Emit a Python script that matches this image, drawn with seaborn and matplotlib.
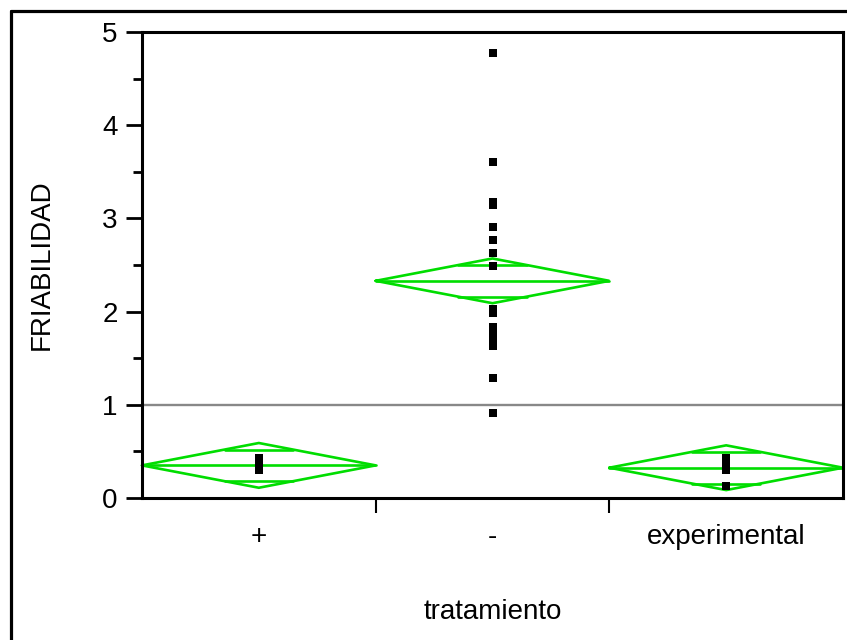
import numpy as np
import pandas as pd
import matplotlib
matplotlib.use("Agg")
import matplotlib.pyplot as plt
from matplotlib.lines import Line2D
import seaborn as sns

# ---- data ----
categories = ["+", "-", "experimental"]
plus_vals = [0.30, 0.32, 0.34, 0.35, 0.36, 0.37, 0.38, 0.39, 0.41, 0.43]
minus_vals = [4.77, 3.60, 3.18, 3.14, 2.91, 2.77, 2.63, 2.49, 2.03, 1.98,
              1.83, 1.78, 1.70, 1.63, 1.29, 0.91]
exp_vals = [0.13, 0.30, 0.32, 0.34, 0.36, 0.38, 0.40, 0.42, 0.43]
group_means = [0.35, 2.33, 0.325]
ci_half = [0.24, 0.24, 0.24]
grand_mean = 1.0
y_ticks = [0, 1, 2, 3, 4, 5]
y_minor = [0.5, 1.5, 2.5, 3.5, 4.5]

df = pd.DataFrame({
    "tratamiento": ["+"] * len(plus_vals) + ["-"] * len(minus_vals) + ["experimental"] * len(exp_vals),
    "FRIABILIDAD": plus_vals + minus_vals + exp_vals,
})

sns.set_theme(style="white")
plt.rcParams["font.family"] = ["Liberation Sans", "DejaVu Sans"]
plt.rcParams["text.color"] = "black"
plt.rcParams["axes.labelcolor"] = "black"
plt.rcParams["xtick.color"] = "black"
plt.rcParams["ytick.color"] = "black"

fig = plt.figure(figsize=(8.47, 6.40), dpi=100)
ax = fig.add_axes([142 / 847, 1 - 498 / 640, (843 - 142) / 847, (498 - 32) / 640])

green = "#00dd00"
glw = 1.9

# grand mean line
ax.axhline(grand_mean, color="#888888", lw=1.7, zorder=1)

# means diamonds
for i, (m, c) in enumerate(zip(group_means, ci_half)):
    ax.plot([i - 0.5, i, i + 0.5, i, i - 0.5], [m, m + c, m, m - c, m],
            color=green, lw=glw, zorder=2, clip_on=False, solid_joinstyle="miter")
    ax.plot([i - 0.5, i + 0.5], [m, m], color=green, lw=glw, zorder=2, clip_on=False)
    d = c / np.sqrt(2)
    hw = 0.5 * (1 - d / c)
    for yy in (m + d, m - d):
        ax.plot([i - hw, i + hw], [yy, yy], color=green, lw=glw, zorder=2)

sns.stripplot(data=df, x="tratamiento", y="FRIABILIDAD", order=categories,
              jitter=False, marker="s", size=5.8, color="black",
              linewidth=0, ax=ax, zorder=3)

ax.set_xlim(-0.5, 2.5)
ax.set_ylim(0, 5)
ax.set_yticks(y_ticks)
ax.set_yticks(y_minor, minor=True)
ax.set_xticks(range(len(categories)))
ax.set_xticklabels(categories)
ax.set_xticks([0.5, 1.5], minor=True)

for s in ax.spines.values():
    s.set_visible(True)
    s.set_color("black")
    s.set_linewidth(2.2)

ax.tick_params(axis="y", which="major", direction="out", length=11.5, width=2.0,
               color="black", labelsize=20, pad=6, left=True)
ax.tick_params(axis="y", which="minor", direction="out", length=6.5, width=2.0,
               color="black", left=True)
ax.tick_params(axis="x", which="major", length=0, labelsize=20, pad=19, bottom=True)
ax.tick_params(axis="x", which="minor", direction="out", length=10.5, width=1.5,
               color="black", bottom=True)

ax.set_xlabel("tratamiento", fontsize=20, labelpad=35)
ax.set_ylabel("FRIABILIDAD", fontsize=20, labelpad=34)
ax.grid(False)

# outer frame (top and left visible)
fig.add_artist(Line2D([11 / 847, 11 / 847], [0, 1 - 11 / 640], color="black", lw=2.3,
                      transform=fig.transFigure))
fig.add_artist(Line2D([11 / 847, 1], [1 - 11 / 640, 1 - 11 / 640], color="black", lw=2.3,
                      transform=fig.transFigure))

fig.savefig("out.png", dpi=100, facecolor="white")
